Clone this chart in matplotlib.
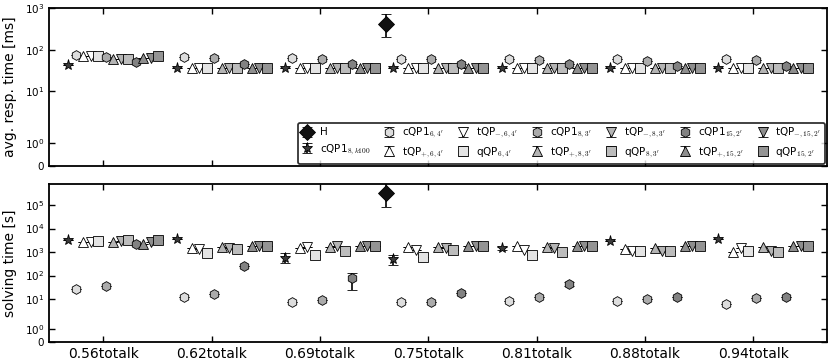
import numpy as np
import matplotlib
matplotlib.use("Agg")
import matplotlib.pyplot as plt
from matplotlib.ticker import NullLocator

plt.rcParams['font.family'] = ['DejaVu Sans']
plt.rcParams['mathtext.fontset'] = 'cm'

nan = np.nan

groups = ['0.56totalk', '0.62totalk', '0.69totalk', '0.75totalk',
          '0.81totalk', '0.88totalk', '0.94totalk']

labels = [r'H', r'cQP1$_{8,k100}$',
          r"cQP1$_{6,4'}$", r"tQP$_{+,6,4'}$", r"tQP$_{-,6,4'}$", r"qQP$_{6,4'}$",
          r"cQP1$_{8,3'}$", r"tQP$_{+,8,3'}$", r"tQP$_{-,8,3'}$", r"qQP$_{8,3'}$",
          r"cQP1$_{15,2'}$", r"tQP$_{+,15,2'}$", r"tQP$_{-,15,2'}$", r"qQP$_{15,2'}$"]

# avg. response time [ms], one row per series
resp_ms = [
    [nan, nan, nan, 420, nan, nan, nan],   # H
    [43, 36, 35, 36, 35, 35, 35],          # cQP1 8,k100
    [74, 66, 64, 61, 61, 61, 61],          # cQP1 6,4'
    [72, 36, 36, 36, 36, 36, 36],          # tQP+ 6,4'
    [72, 36, 36, 36, 36, 36, 36],          # tQP- 6,4'
    [70, 36, 36, 36, 36, 36, 36],          # qQP 6,4'
    [68, 63, 61, 58, 56, 53, 56],          # cQP1 8,3'
    [60, 36, 36, 36, 36, 36, 36],          # tQP+ 8,3'
    [60, 36, 36, 36, 36, 36, 36],          # tQP- 8,3'
    [61, 36, 36, 36, 36, 36, 36],          # qQP 8,3'
    [49, 44, 44, 44, 44, 41, 40],          # cQP1 15,2'
    [62, 36, 36, 36, 36, 36, 36],          # tQP+ 15,2'
    [64, 36, 36, 36, 36, 36, 36],          # tQP- 15,2'
    [72, 36, 36, 36, 36, 36, 36],          # qQP 15,2'
]

# solving time [s], one row per series
solve_s = [
    [nan, nan, nan, 3.2e5, nan, nan, nan],
    [3265, 3500, 545, 485, 1450, 2960, 3500],
    [27, 12.7, 7.8, 7.6, 8.5, 8.5, 6.0],
    [2760, 1450, 1450, 1700, 1850, 1350, 1000],
    [2800, 1300, 1700, 1200, 1200, 1100, 1450],
    [2850, 887, 752, 637, 750, 1150, 1150],
    [36, 16.5, 9.2, 7.8, 12.7, 9.8, 10.8],
    [2760, 1700, 1650, 1700, 1700, 1500, 1700],
    [3000, 1500, 1800, 1450, 1450, 1150, 1100],
    [3265, 1350, 1150, 1250, 1000, 1100, 1050],
    [2140, 256, 77, 18, 43, 12.7, 12.7],
    [2250, 1750, 1800, 1800, 1800, 1750, 1800],
    [2800, 1800, 1850, 1800, 1800, 1800, 1800],
    [3265, 1750, 1800, 1800, 1800, 1800, 1800],
]

# error bar ends where they are visible (series index -> low / high)
resp_low = {0: [nan, nan, nan, 199, nan, nan, nan]}
resp_high = {0: [nan, nan, nan, 718, nan, nan, nan]}
solve_low = {0: [nan, nan, nan, 8.0e4, nan, nan, nan],
             1: [nan, nan, 330, 282, 1200, nan, nan],
             10: [nan, nan, 24.5, nan, 36, nan, nan]}
solve_high = {0: [nan, nan, nan, 2.0e6, nan, nan, nan],
              1: [nan, nan, 930, 750, 1700, nan, nan],
              10: [nan, nan, 125, nan, 52, nan, nan]}

markers = ['D', '*', 'h', '^', 'v', 's', 'h', '^', 'v', 's', 'h', '^', 'v', 's']
colors = ['#111111', '#3a3a3a',
          '#dddddd', '#ffffff', '#ffffff', '#e4e4e4',
          '#ababab', '#b4b4b4', '#b4b4b4', '#bcbcbc',
          '#828282', '#8e8e8e', '#8e8e8e', '#949494']
sizes = [8, 8, 7, 7, 7, 7, 7, 7, 7, 7, 7, 7, 7, 7]


def yerr_for(vals, low, high, i):
    v = np.array(vals, dtype=float)
    lo = np.zeros_like(v)
    hi = np.zeros_like(v)
    if i in low:
        lo = np.nan_to_num(v - np.array(low[i], dtype=float))
        hi = np.nan_to_num(np.array(high[i], dtype=float) - v)
    return [lo, hi]


fig = plt.figure(figsize=(8.31, 3.63), dpi=100)
ax1 = fig.add_axes([0.059, 0.5435, 0.936, 0.4335])
ax2 = fig.add_axes([0.059, 0.0587, 0.936, 0.4343])

xbase = np.arange(len(groups))
start, step = -0.392, 0.0692

handles = []
for ax, data, low, high in [(ax1, resp_ms, resp_low, resp_high),
                            (ax2, solve_s, solve_low, solve_high)]:
    for i, vals in enumerate(data):
        x = xbase + start + step * i
        h = ax.errorbar(x, vals, yerr=yerr_for(vals, low, high, i),
                        fmt=markers[i], mfc=colors[i], mec='k', mew=0.6,
                        ms=sizes[i], ecolor='k', elinewidth=1.2,
                        capsize=3.5, capthick=2, label=labels[i])
        if ax is ax1:
            handles.append(h)

for ax in (ax1, ax2):
    ax.set_yscale('symlog', linthresh=2, linscale=1)
    ax.yaxis.set_minor_locator(NullLocator())
    ax.set_xlim(-0.5, 6.68)
    ax.set_xticks(xbase)
    ax.tick_params(direction='in', top=True, right=True, length=4, width=1)
    ax.tick_params(axis='y', labelsize=7.5)
    for sp in ax.spines.values():
        sp.set_linewidth(1.3)

ax1.set_ylim(0, 1000)
ax1.set_yticks([0, 1, 10, 100, 1000])
ax1.set_yticklabels(['0', r'$\mathdefault{10^{0}}$', r'$\mathdefault{10^{1}}$',
                     r'$\mathdefault{10^{2}}$', r'$\mathdefault{10^{3}}$'])
ax1.set_xticklabels([])
ax1.set_ylabel('avg. resp. time [ms]', fontsize=10)
ax1.yaxis.set_label_coords(-0.041, 0.5)

ax2.set_ylim(0, 7.8e5)
ax2.set_yticks([0, 1, 10, 100, 1e3, 1e4, 1e5])
ax2.set_yticklabels(['0'] + [r'$\mathdefault{10^{%d}}$' % k for k in range(6)])
ax2.set_xticklabels(groups, fontsize=10)
ax2.set_ylabel('solving time [s]', fontsize=10)
ax2.yaxis.set_label_coords(-0.041, 0.5)

leg = ax1.legend(handles, labels, loc='lower right', ncol=7, fontsize=7.5,
                 fancybox=True, frameon=True, handlelength=1.0,
                 handletextpad=0.7, columnspacing=1.35, labelspacing=0.5,
                 borderpad=0.35, borderaxespad=0.2)
leg.get_frame().set_edgecolor('k')
leg.get_frame().set_linewidth(1.3)

fig.savefig('out.png', dpi=100)
